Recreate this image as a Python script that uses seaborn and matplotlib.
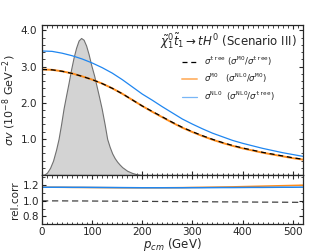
import numpy as np
import pandas as pd
import matplotlib
matplotlib.use("Agg")
import matplotlib.pyplot as plt
from matplotlib.ticker import MultipleLocator, FormatStrFormatter
import seaborn as sns

# cross sections (10^-8 GeV^-2)
p_cm = [0, 20, 40, 60, 80, 100, 120, 140, 160, 180, 200, 220, 240, 260,
        280, 300, 320, 340, 360, 380, 400, 420, 440, 460, 480, 500, 520]
sig_tree = [2.92, 2.91, 2.87, 2.81, 2.73, 2.64, 2.53, 2.40, 2.25, 2.08, 1.91, 1.76, 1.61, 1.46,
            1.32, 1.20, 1.09, 0.99, 0.90, 0.82, 0.75, 0.69, 0.63, 0.58, 0.53, 0.48, 0.44]
sig_mo = [2.92, 2.91, 2.87, 2.81, 2.73, 2.64, 2.53, 2.40, 2.25, 2.08, 1.91, 1.75, 1.60, 1.45,
          1.31, 1.19, 1.08, 0.98, 0.89, 0.81, 0.74, 0.68, 0.62, 0.57, 0.52, 0.47, 0.43]
sig_nlo = [3.43, 3.42, 3.37, 3.30, 3.21, 3.10, 2.97, 2.82, 2.64, 2.44, 2.24, 2.07, 1.89, 1.72,
           1.55, 1.41, 1.28, 1.16, 1.06, 0.96, 0.88, 0.81, 0.74, 0.68, 0.62, 0.57, 0.52]

# ratios for the lower panel
ratio_mo_tree = [1.000, 1.000, 1.000, 0.999, 0.999, 0.998, 0.997, 0.997, 0.996, 0.995, 0.994, 0.993, 0.992, 0.991,
                 0.990, 0.990, 0.989, 0.988, 0.987, 0.987, 0.986, 0.985, 0.984, 0.984, 0.983, 0.982, 0.981]
ratio_nlo_mo = [1.175, 1.175, 1.174, 1.173, 1.172, 1.171, 1.170, 1.169, 1.168, 1.168, 1.168, 1.168, 1.168, 1.169,
                1.170, 1.172, 1.174, 1.176, 1.178, 1.180, 1.183, 1.186, 1.189, 1.192, 1.195, 1.198, 1.201]
ratio_nlo_tree = [1.175, 1.175, 1.175, 1.174, 1.174, 1.173, 1.172, 1.171, 1.170, 1.169, 1.168, 1.168, 1.168, 1.168,
                  1.168, 1.169, 1.169, 1.170, 1.171, 1.171, 1.172, 1.173, 1.173, 1.174, 1.175, 1.175, 1.176]

# momentum distribution (grey shape)
dist_p = [0, 5, 10, 16, 22, 28, 33, 38, 43, 48, 53, 58, 63, 68, 73, 78, 83, 88, 93, 98, 104, 109,
          114, 119, 125, 130, 135, 140, 145, 150, 155, 160, 170, 180, 190, 200]
dist_v = [0.0, 0.02, 0.07, 0.2, 0.4, 0.7, 1.0, 1.4, 1.84, 2.2, 2.55, 2.92, 3.25, 3.52, 3.72, 3.79, 3.74, 3.58,
          3.34, 3.05, 2.75, 2.45, 2.15, 1.84, 1.4, 1.0, 0.78, 0.6, 0.47, 0.37, 0.29, 0.22, 0.12, 0.06, 0.02, 0.0]

sns.set_style("ticks")
plt.rcParams["font.family"] = ["DejaVu Sans"]
plt.rcParams["xtick.direction"] = "in"
plt.rcParams["ytick.direction"] = "in"
plt.rcParams["xtick.top"] = True
plt.rcParams["ytick.right"] = True
plt.rcParams["mathtext.fontset"] = "dejavusans"

blue = "#1f86f0"
orange = "#ff8c1a"

df = pd.DataFrame({"p": p_cm, "tree": sig_tree, "mo": sig_mo, "nlo": sig_nlo,
                   "r1": ratio_mo_tree, "r2": ratio_nlo_mo, "r3": ratio_nlo_tree})

fig = plt.figure(figsize=(3.36, 2.52), dpi=100)
ax1 = fig.add_axes([0.125, 0.305, 0.776, 0.596])
ax2 = fig.add_axes([0.125, 0.11, 0.776, 0.195], sharex=ax1)

ax1.fill_between(dist_p, dist_v, color="#d3d3d3", edgecolor="#707070", lw=0.8)
sns.lineplot(data=df, x="p", y="nlo", ax=ax1, color=blue, lw=0.9,
             label=r"$\sigma^{\mathtt{NLO}}$  ($\sigma^{\mathtt{NLO}}/\sigma^{\mathtt{tree}}$)")
sns.lineplot(data=df, x="p", y="mo", ax=ax1, color=orange, lw=1.4,
             label=r"$\sigma^{\mathtt{MO}}$   ($\sigma^{\mathtt{NLO}}/\sigma^{\mathtt{MO}}$)")
sns.lineplot(data=df, x="p", y="tree", ax=ax1, color="black", lw=0.9, dashes=(4, 3),
             label=r"$\sigma^{\mathtt{tree}}$ ($\sigma^{\mathtt{MO}}/\sigma^{\mathtt{tree}}$)")

h, l = ax1.get_legend_handles_labels()
order = [2, 1, 0]
leg = ax1.legend([h[i] for i in order], [l[i] for i in order], loc="upper right",
                 frameon=False, fontsize=6.2, handlelength=1.8,
                 title=r"$\tilde{\chi}^0_1\tilde{t}_1 \rightarrow tH^0$ (Scenario III)",
                 title_fontsize=8.5, borderaxespad=0.3, labelspacing=0.45)
for line in leg.get_lines()[1:]:
    line.set_alpha(0.6)

ax1.set_xlim(0, 520)
ax1.set_ylim(0, 4.15)
ax1.set_yticks([1.0, 2.0, 3.0, 4.0])
ax1.yaxis.set_major_formatter(FormatStrFormatter("%.1f"))
ax1.yaxis.set_minor_locator(MultipleLocator(0.2))
ax1.xaxis.set_major_locator(MultipleLocator(100))
ax1.xaxis.set_minor_locator(MultipleLocator(10))
ax1.set_ylabel(r"$\sigma v$ (10$^{-8}$ GeV$^{-2}$)", fontsize=8, labelpad=2)
ax1.set_xlabel("")
ax1.tick_params(labelbottom=False, labelsize=7.5, length=3, width=0.8)
ax1.tick_params(which="minor", length=1.8, width=0.6, top=True, right=True)

sns.lineplot(data=df, x="p", y="r1", ax=ax2, color="black", lw=0.9, dashes=(5, 3), alpha=0.75)
sns.lineplot(data=df, x="p", y="r2", ax=ax2, color=orange, lw=1.1)
sns.lineplot(data=df, x="p", y="r3", ax=ax2, color=blue, lw=1.1)
ax2.set_ylim(0.7, 1.33)
ax2.set_yticks([0.8, 1.0, 1.2])
ax2.yaxis.set_major_formatter(FormatStrFormatter("%.1f"))
ax2.yaxis.set_minor_locator(MultipleLocator(0.1))
ax2.set_ylabel("rel.corr", fontsize=7.5, labelpad=2)
ax2.set_xlabel(r"$p_{cm}$ (GeV)", fontsize=8.5, labelpad=-1)
ax2.tick_params(labelsize=7.5, length=3, width=0.8, pad=2)
ax2.tick_params(which="minor", length=1.8, width=0.6, top=True, right=True)

for a in (ax1, ax2):
    for s in a.spines.values():
        s.set_linewidth(0.9)

fig.savefig("out.png", dpi=100)
